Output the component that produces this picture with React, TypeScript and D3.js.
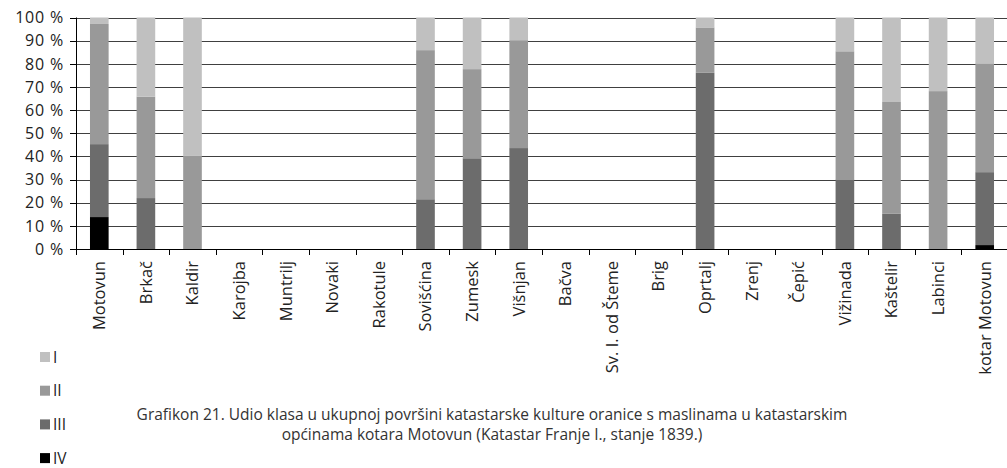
import React, { useEffect } from "react";
import * as d3 from "d3";

const categories = [
  "Motovun", "Brkač", "Kaldir", "Karojba", "Muntrilj", "Novaki", "Rakotule",
  "Sovišćina", "Zumesk", "Višnjan", "Bačva", "Sv. I. od Šteme", "Brig",
  "Oprtalj", "Zrenj", "Čepić", "Vižinada", "Kaštelir", "Labinci", "kotar Motovun",
];
const classI = [2.8, 34.2, 59.8, 0, 0, 0, 0, 14.1, 22.3, 9.8, 0, 0, 0, 4.3, 0, 0, 14.6, 36.5, 31.8, 19.8];
const classII = [51.9, 43.8, 40.2, 0, 0, 0, 0, 64.4, 38.5, 46.6, 0, 0, 0, 19.6, 0, 0, 55.3, 48.3, 68.2, 47.0];
const classIII = [31.5, 22.0, 0, 0, 0, 0, 0, 21.5, 39.2, 43.6, 0, 0, 0, 76.1, 0, 0, 30.1, 15.2, 0, 31.5];
const classIV = [13.8, 0, 0, 0, 0, 0, 0, 0, 0, 0, 0, 0, 0, 0, 0, 0, 0, 0, 0, 1.7];
const yTicks = [0, 10, 20, 30, 40, 50, 60, 70, 80, 90, 100];
const seriesKeys = ["IV", "III", "II", "I"];
const legendKeys = ["I", "II", "III", "IV"];
const colors: Record<string, string> = { I: "#c0c0c0", II: "#999999", III: "#6c6c6c", IV: "#000000" };
const captionLines = [
  "Grafikon 21. Udio klasa u ukupnoj površini katastarske kulture oranice s maslinama u katastarskim",
  "općinama kotara Motovun (Katastar Franje I., stanje 1839.)",
];

const W = 1007, H = 468;
const left = 76, right = 1008, top = 17.5, bottom = 249;
const font = "'Open Sans', 'Noto Sans', sans-serif";

export default function App() {
  useEffect(() => {
    document.body.style.margin = "0";
  }, []);

  const rows = categories.map((c, i) => ({
    cat: c, I: classI[i], II: classII[i], III: classIII[i], IV: classIV[i],
  }));
  const stack = d3.stack<any>().keys(seriesKeys)(rows);
  const x = d3.scaleBand().domain(categories).range([left, right]).padding(0);
  const y = d3.scaleLinear().domain([0, 100]).range([bottom, top]);
  const bw = x.bandwidth() * 0.4;

  return (
    <svg width={W} height={H} style={{ display: "block", background: "#fff" }}>
      {yTicks.map((t) => (
        <g key={t}>
          <line x1={left} x2={W} y1={Math.round(y(t)) + 0.5} y2={Math.round(y(t)) + 0.5}
            stroke={t === 0 ? "#000" : "#404040"} strokeWidth={1} />
          <line x1={left - 6} x2={left} y1={Math.round(y(t)) + 0.5} y2={Math.round(y(t)) + 0.5} stroke="#000" />
          <text x={left - 12} y={y(t)} dy="0.36em" textAnchor="end" fontFamily={font} fontSize={16}
            letterSpacing={0.8} fill="#222">
            {t} %
          </text>
        </g>
      ))}
      {stack.map((s) => (
        <g key={s.key} fill={colors[s.key]}>
          {s.map((d: any, i: number) =>
            d[1] - d[0] > 0 ? (
              <rect key={i} x={x(categories[i])! + (x.bandwidth() - bw) / 2} y={y(d[1])}
                width={bw} height={y(d[0]) - y(d[1])} />
            ) : null
          )}
        </g>
      ))}
      <line x1={left + 0.5} x2={left + 0.5} y1={top} y2={bottom + 6} stroke="#000" />
      {categories.map((c, i) => (
        <line key={"t" + i} x1={Math.round(x(c)! + x.bandwidth()) + 0.5} x2={Math.round(x(c)! + x.bandwidth()) + 0.5}
          y1={bottom} y2={bottom + 6} stroke="#000" />
      ))}
      {categories.map((c) => (
        <text key={c} transform={`translate(${x(c)! + x.bandwidth() / 2},${bottom + 12}) rotate(-90)`}
          dy="0.36em" textAnchor="end" fontFamily={font} fontSize={16.5} fill="#222">
          {c}
        </text>
      ))}
      {legendKeys.map((k, i) => (
        <g key={k} transform={`translate(40,${352 + i * 33.7})`}>
          <rect width={10} height={10} fill={colors[k]} />
          <text x={13} y={5} dy="0.36em" fontFamily={font} fontSize={15.5} fill="#222">{k}</text>
        </g>
      ))}
      {captionLines.map((l, i) => (
        <text key={i} x={492} y={420 + i * 20} textAnchor="middle" fontFamily={font} fontSize={15.5} fill="#333">
          {l}
        </text>
      ))}
    </svg>
  );
}
